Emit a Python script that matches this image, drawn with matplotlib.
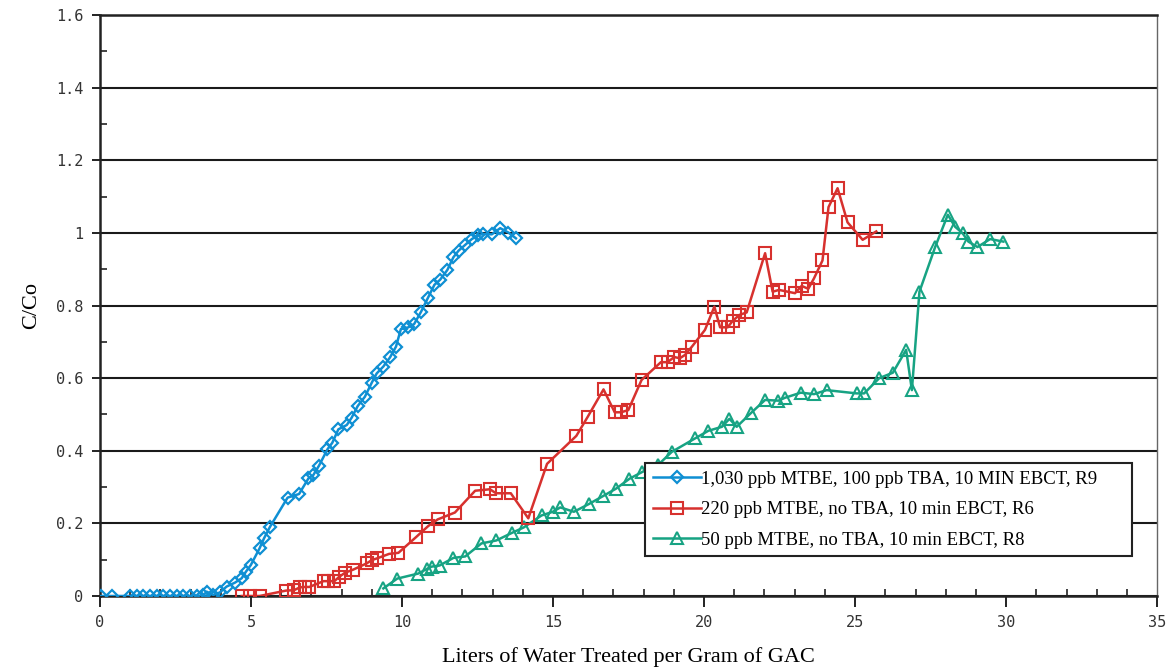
import matplotlib
matplotlib.use("Agg")
import matplotlib.pyplot as plt
from matplotlib.ticker import MultipleLocator

# R9: 1,030 ppb MTBE, 100 ppb TBA
x_r9 = [0.03, 0.39, 0.99, 1.21, 1.43, 1.66, 1.88, 2.10, 2.32, 2.54, 2.76, 2.98,
        3.20, 3.42, 3.53, 3.75, 3.97, 4.19, 4.47, 4.69, 4.83, 4.99, 5.28, 5.43,
        5.63, 6.21, 6.59, 6.90, 7.06, 7.25, 7.53, 7.69, 7.89, 8.17, 8.33, 8.53,
        8.77, 9.00, 9.16, 9.38, 9.60, 9.80, 9.96, 10.21, 10.40, 10.63, 10.85,
        11.07, 11.26, 11.50, 11.70, 11.87, 12.09, 12.31, 12.53, 12.69, 12.97,
        13.25, 13.52, 13.77]
y_r9 = [0.0, 0.0, 0.0, 0.0, 0.0, 0.0, 0.0, 0.0, 0.0, 0.0, 0.0, 0.0,
        0.0, 0.002, 0.012, 0.003, 0.010, 0.026, 0.037, 0.049, 0.067, 0.085, 0.131, 0.159,
        0.191, 0.271, 0.281, 0.324, 0.333, 0.359, 0.404, 0.422, 0.459, 0.471, 0.491, 0.523,
        0.549, 0.588, 0.613, 0.632, 0.657, 0.687, 0.735, 0.740, 0.749, 0.783, 0.820,
        0.857, 0.871, 0.898, 0.933, 0.951, 0.967, 0.983, 0.994, 0.997, 0.996,
        1.013, 1.001, 0.985]

# R6: 220 ppb MTBE, no TBA
x_r6 = [4.69, 4.97, 5.28, 6.16, 6.42, 6.62, 6.79, 6.93, 7.40, 7.56, 7.76, 7.92,
        8.11, 8.39, 8.83, 9.00, 9.18, 9.57, 9.88, 10.46, 10.87, 11.18, 11.75,
        12.42, 12.91, 13.11, 13.60, 14.18, 14.80, 15.77, 16.15, 16.67, 17.04,
        17.25, 17.49, 17.93, 18.57, 18.79, 19.01, 19.20, 19.37, 19.59, 20.03,
        20.34, 20.53, 20.78, 20.95, 21.17, 21.41, 22.02, 22.27, 22.48, 23.01,
        23.23, 23.45, 23.64, 23.92, 24.12, 24.42, 24.75, 25.25, 25.70]
y_r6 = [0.0, 0.0, 0.0, 0.015, 0.016, 0.024, 0.025, 0.025, 0.041, 0.041, 0.041, 0.053,
        0.064, 0.073, 0.090, 0.099, 0.104, 0.116, 0.119, 0.162, 0.193, 0.211, 0.230,
        0.290, 0.294, 0.283, 0.283, 0.214, 0.364, 0.441, 0.494, 0.569, 0.506,
        0.506, 0.512, 0.595, 0.644, 0.644, 0.658, 0.655, 0.664, 0.686, 0.733,
        0.797, 0.740, 0.740, 0.758, 0.774, 0.781, 0.944, 0.838, 0.843, 0.834,
        0.854, 0.846, 0.875, 0.924, 1.071, 1.123, 1.029, 0.981, 1.004]

# R8: 50 ppb MTBE, no TBA
x_r8 = [9.38, 9.84, 10.54, 10.83, 10.98, 11.24, 11.70, 12.09, 12.63, 13.12,
        13.64, 14.03, 14.62, 14.99, 15.24, 15.69, 16.20, 16.65, 17.09, 17.53,
        17.96, 18.49, 18.93, 19.70, 20.14, 20.59, 20.84, 21.08, 21.54, 22.02,
        22.46, 22.68, 23.20, 23.64, 24.06, 25.05, 25.30, 25.80, 26.25, 26.69,
        26.88, 27.13, 27.65, 28.07, 28.31, 28.56, 28.75, 29.05, 29.47, 29.91]
y_r8 = [0.021, 0.048, 0.062, 0.075, 0.081, 0.084, 0.105, 0.109, 0.145, 0.153,
        0.174, 0.189, 0.222, 0.232, 0.244, 0.232, 0.254, 0.275, 0.296, 0.323,
        0.342, 0.362, 0.397, 0.434, 0.455, 0.466, 0.488, 0.466, 0.503, 0.540,
        0.538, 0.546, 0.560, 0.556, 0.567, 0.558, 0.558, 0.600, 0.615, 0.678,
        0.567, 0.838, 0.961, 1.050, 1.017, 0.999, 0.976, 0.961, 0.983, 0.976]

labels = ["1,030 ppb MTBE, 100 ppb TBA, 10 MIN EBCT, R9",
          "220 ppb MTBE, no TBA, 10 min EBCT, R6",
          "50 ppb MTBE, no TBA, 10 min EBCT, R8"]

y_ticks = [0, 0.2, 0.4, 0.6, 0.8, 1.0, 1.2, 1.4, 1.6]
y_ticklabels = ["0", "0.2", "0.4", "0.6", "0.8", "1", "1.2", "1.4", "1.6"]

serif = ["Liberation Serif", "DejaVu Serif"]
mono = ["DejaVu Sans Mono"]

fig = plt.figure(figsize=(11.7, 6.7), dpi=100)
ax = fig.add_axes([0.0855, 0.1104, 0.9035, 0.8672])

ax.plot(x_r9, y_r9, color="#0f8fd3", lw=1.8, marker="D", ms=6.5, mfc="none",
        mew=1.6, label=labels[0], zorder=5)
ax.plot(x_r6, y_r6, color="#d7312e", lw=1.8, marker="s", ms=8, mfc="none",
        mew=1.5, label=labels[1], zorder=4)
ax.plot(x_r8, y_r8, color="#17a383", lw=1.8, marker="^", ms=9, mfc="none",
        mew=1.5, label=labels[2], zorder=3)

ax.set_xlim(0, 35)
ax.set_ylim(0, 1.6)
ax.xaxis.set_major_locator(MultipleLocator(5))
ax.xaxis.set_minor_locator(MultipleLocator(1))
ax.set_yticks(y_ticks)
ax.set_yticklabels(y_ticklabels)
ax.yaxis.set_minor_locator(MultipleLocator(0.1))

ax.grid(axis="y", which="major", color="#1a1a1a", lw=1.5)
ax.set_axisbelow(True)
for side in ("left", "bottom", "top"):
    ax.spines[side].set_color("#222222")
    ax.spines[side].set_linewidth(1.8)
ax.spines["right"].set_color("#666666")
ax.spines["right"].set_linewidth(1.0)

ax.tick_params(which="major", direction="out", length=7, width=1.4,
               color="#222222", labelcolor="#333333")
ax.tick_params(axis="y", which="major", length=6, pad=6)
ax.tick_params(axis="x", which="major", length=8, pad=6)
ax.tick_params(which="minor", direction="in", length=5, width=1.2, color="#222222")
for lab in ax.get_xticklabels() + ax.get_yticklabels():
    lab.set_family(mono)
    lab.set_fontsize(11)

ax.set_xlabel("Liters of Water Treated per Gram of GAC", family=serif,
              fontsize=16, labelpad=12)
ax.set_ylabel("C/Co", family=serif, fontsize=16, labelpad=11)

# legend box stretched across a fixed span of the axes
leg = ax.legend(loc="upper left", bbox_to_anchor=(0.5156, 0.0, 0.4607, 0.2289),
                mode="expand", prop={"family": serif, "size": 13.5},
                frameon=True, fancybox=False, edgecolor="#222222", framealpha=1,
                handlelength=2.6, handletextpad=0.0, borderpad=0.4,
                labelspacing=0.72, borderaxespad=0)
leg.get_frame().set_linewidth(1.5)

fig.savefig("out.png", dpi=100)
